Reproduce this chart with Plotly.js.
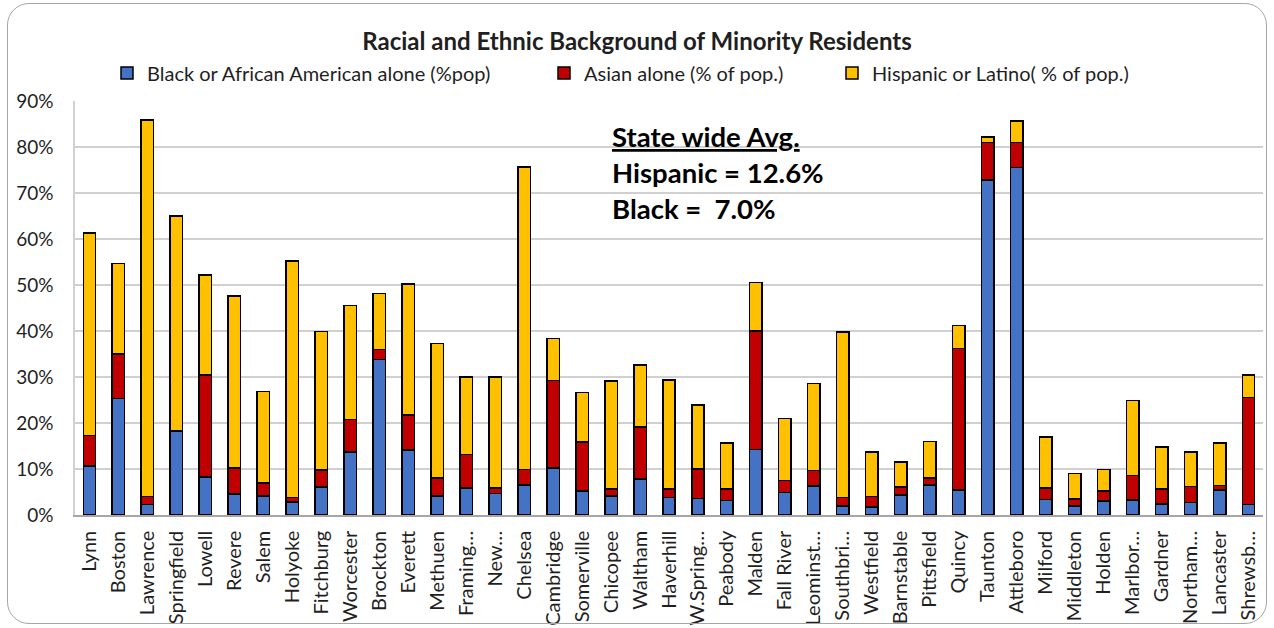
<!DOCTYPE html>
<html>
<head>
<meta charset="utf-8">
<script src="https://cdn.plot.ly/plotly-3.0.1.min.js"></script>
<style>
  html, body { margin: 0; padding: 0; background: #ffffff; }
  #chart { position: absolute; left: 0; top: 0; width: 1274px; height: 628px; }
  #frame { position: absolute; left: 7px; top: 3px; width: 1258px; height: 619px;
           border: 1.5px solid #a6a6a6; border-radius: 22px; pointer-events: none; }
</style>
</head>
<body>
<div id="chart"></div>
<div id="frame"></div>
<script>
// Cities (labels as shown on the axis)
const cities = ["Lynn","Boston","Lawrence","Springfield","Lowell","Revere","Salem","Holyoke",
  "Fitchburg","Worcester","Brockton","Everett","Methuen","Framing\u2026","New\u2026","Chelsea",
  "Cambridge","Somerville","Chicopee","Waltham","Haverhill","W.Spring\u2026","Peabody","Malden",
  "Fall River","Leominst\u2026","Southbri\u2026","Westfield","Barnstable","Pittsfield","Quincy",
  "Taunton","Attleboro","Milford","Middleton","Holden","Marlbor\u2026","Gardner","Northam\u2026",
  "Lancaster","Shrewsb\u2026"];

// Share of population, percent
const blackPct = [10.6,25.3,2.3,18.2,8.3,4.6,4.1,2.8,6.1,13.7,33.8,14.1,4.1,5.9,4.7,6.5,
  10.2,5.2,4.1,7.8,3.8,3.6,3.2,14.2,4.9,6.3,2.0,1.7,4.4,6.5,5.4,72.8,75.5,3.4,2.0,3.0,
  3.3,2.4,2.7,5.4,2.3];
const asianPct = [6.7,9.7,1.7,0.2,22.1,5.6,2.9,1.0,3.7,7.1,2.2,7.6,3.9,7.2,1.2,3.4,
  19.0,10.7,1.6,11.3,1.9,6.4,2.5,25.8,2.6,3.4,1.8,2.3,1.7,1.5,30.8,8.2,5.5,2.5,1.5,2.2,
  5.3,3.3,3.5,1.0,23.2];
const hispanicPct = [44.0,19.7,81.9,46.6,21.8,37.4,19.8,51.4,30.1,24.7,12.1,28.5,29.3,16.9,24.1,65.7,
  9.2,10.7,23.4,13.5,23.6,13.9,10.0,10.5,13.5,18.9,36.0,9.7,5.4,8.0,5.0,1.2,4.7,11.1,5.5,4.7,
  16.3,9.1,7.5,9.3,4.9];

const seriesNames = ["Black or African American alone (%pop)", "Asian alone (% of pop.)", "Hispanic or Latino( % of pop.)"];
const seriesColors = ["#4472C4", "#C00000", "#FFC000"];
const seriesValues = [blackPct, asianPct, hispanicPct];
const legendIds = ["legend", "legend2", "legend3"];
const legendLeft = [107, 544, 832];   // px from the left edge of the page

const yTicks = [0,10,20,30,40,50,60,70,80,90];
const yTickText = yTicks.map(v => v + "%");

const FONT = "Lato, 'Open Sans', sans-serif";
const TXT = "#1f1f1f";

const traces = seriesValues.map((vals, i) => ({
  type: "bar",
  name: seriesNames[i],
  x: cities,
  y: vals,
  legend: legendIds[i],
  marker: { color: seriesColors[i], line: { color: "#000000", width: 1.5 } },
  hovertemplate: "%{x}: %{y:.1f}%<extra>" + seriesNames[i] + "</extra>"
}));

const legendBase = {
  orientation: "h",
  xref: "container", yref: "container",
  yanchor: "middle", xanchor: "left",
  y: 1 - 73 / 628,
  font: { family: FONT, size: 20, color: TXT },
  bgcolor: "rgba(0,0,0,0)",
  itemwidth: 30
};

const layout = {
  width: 1274, height: 628,
  margin: { l: 75, r: 11, t: 101, b: 113 },
  paper_bgcolor: "rgba(0,0,0,0)",
  plot_bgcolor: "#ffffff",
  barmode: "stack",
  bargap: 0.57,
  showlegend: true,
  font: { family: FONT, color: TXT },
  title: {
    text: "<b>Racial and Ethnic Background of Minority Residents</b>",
    xref: "container", x: 0.5, xanchor: "center",
    yref: "container", y: 1 - 42 / 628, yanchor: "middle",
    font: { family: FONT, size: 24, color: TXT }
  },
  xaxis: {
    type: "category",
    tickangle: -90,
    ticks: "",
    ticklabelstandoff: 6,
    tickfont: { family: FONT, size: 20, color: TXT },
    showline: true, linecolor: "#a6a6a6", linewidth: 1.5,
    showgrid: false, fixedrange: true
  },
  yaxis: {
    range: [0, 90],
    tickmode: "array",
    tickvals: yTicks,
    ticktext: yTickText,
    ticks: "",
    ticklabelstandoff: 16,
    tickfont: { family: FONT, size: 19, color: TXT },
    showgrid: true, gridcolor: "#d0d0d0", gridwidth: 1.5,
    showline: true, linecolor: "#d0d0d0", linewidth: 1.5,
    zeroline: false, fixedrange: true
  },
  annotations: [{
    xref: "paper", yref: "paper",
    x: (610 - 75) / 1188, y: (515 - 118) / 414,
    xanchor: "left", yanchor: "top", align: "left",
    showarrow: false,
    text: "<b><u>State wide Avg.</u></b><br><b>Hispanic = 12.6%</b><br><b>Black =  7.0%</b>",
    font: { family: FONT, size: 27.5, color: "#000000" }
  }]
};

legendIds.forEach((id, i) => {
  layout[id] = Object.assign({}, legendBase, { x: legendLeft[i] / 1274 });
});

Plotly.newPlot("chart", traces, layout, { displayModeBar: false });
</script>
</body>
</html>
